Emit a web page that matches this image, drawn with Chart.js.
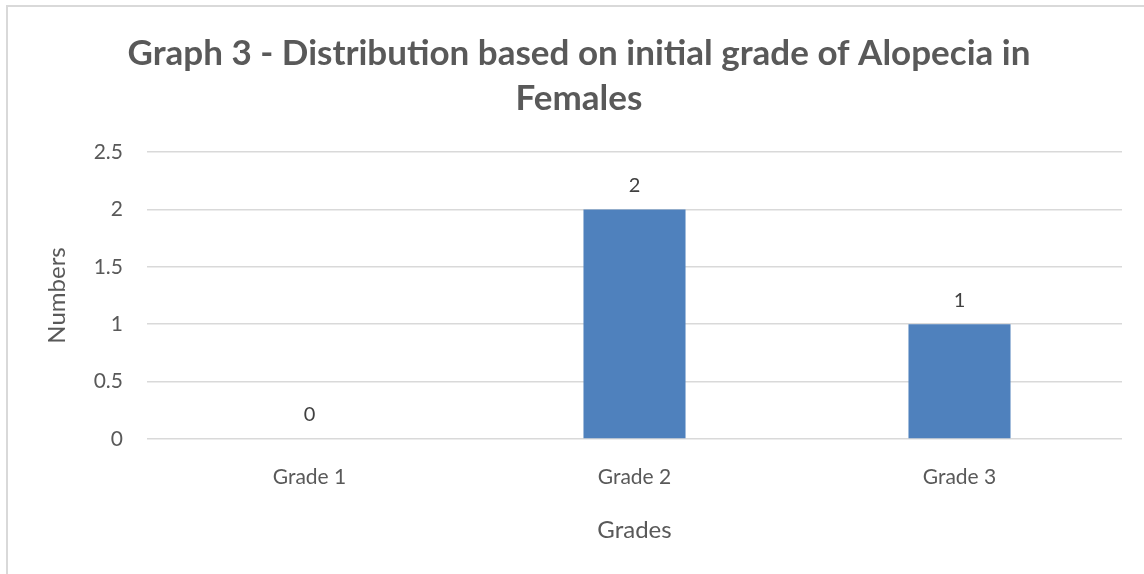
<!DOCTYPE html>
<html>
<head>
<meta charset="utf-8">
<script src="https://cdn.jsdelivr.net/npm/chart.js@4"></script>
<style>
  html, body { margin: 0; padding: 0; background: #fff; overflow: hidden; }
  #frame { position: absolute; left: 6px; top: 5px; width: 1150px; height: 600px;
           border-left: 2px solid #d9d9d9; border-top: 2px solid #d9d9d9; }
  #wrap { position: absolute; left: 0; top: 0; width: 1144px; height: 574px; }
</style>
</head>
<body>
<div id="frame"></div>
<div id="wrap"><canvas id="grades"></canvas></div>
<script>
const grades = ['Grade 1', 'Grade 2', 'Grade 3'];
const femaleCounts = [0, 2, 1];
const yTicks = [0, 0.5, 1, 1.5, 2, 2.5];

const textGrey = '#595959';
const fontFamily = 'Lato, "Open Sans", sans-serif';

// value labels on top of each bar
const barValuePlugin = {
    id: 'barValues',
    afterDatasetsDraw: function (chart) {
        const ctx = chart.ctx;
        ctx.save();
        ctx.font = `20px ${fontFamily}`;
        ctx.fillStyle = '#404040';
        ctx.textAlign = 'center';
        ctx.textBaseline = 'middle';
        chart.getDatasetMeta(0).data.forEach((bar, i) => {
            ctx.fillText(String(femaleCounts[i]), bar.x, bar.y - 24);
        });
        ctx.restore();
    }
};

const ctx = document.getElementById('grades').getContext('2d');
const gradeChart = new Chart(ctx, {
    type: 'bar',
    data: {
        labels: grades,
        datasets: [{
            data: femaleCounts,
            backgroundColor: '#4f81bd',
            borderWidth: 0,
            categoryPercentage: 1,
            barPercentage: 0.314
        }]
    },
    options: {
        responsive: true,
        maintainAspectRatio: false,
        animation: false,
        layout: { padding: { top: 0, right: 22, bottom: 0, left: 36 } },
        plugins: {
            legend: { display: false },
            tooltip: { enabled: false },
            title: {
                display: true,
                text: ['Graph 3 - Distribution based on initial grade of Alopecia in', 'Females'],
                color: textGrey,
                font: { family: fontFamily, size: 35, weight: 'bold', lineHeight: 1.286 },
                padding: { top: 31, bottom: 31 }
            }
        },
        scales: {
            x: {
                afterFit: function (scale) {
                    scale.height = 135;
                },
                grid: { display: false },
                border: { display: false },
                ticks: { color: textGrey, font: { family: fontFamily, size: 21 }, padding: 18 },
                title: {
                    display: true,
                    text: 'Grades',
                    color: textGrey,
                    font: { family: fontFamily, size: 24 },
                    padding: { top: 0, bottom: 29 }
                }
            },
            y: {
                min: 0,
                max: 2.5,
                afterBuildTicks: function (scale) {
                    scale.ticks = yTicks.map(v => ({ value: v }));
                },
                afterFit: function (scale) {
                    scale.width = 111;
                },
                grid: { color: '#d9d9d9', lineWidth: 1.5, drawTicks: false },
                border: { display: false },
                ticks: {
                    color: textGrey,
                    font: { family: fontFamily, size: 21 },
                    padding: 24,
                    callback: function (value) { return String(value); }
                },
                title: {
                    display: true,
                    text: 'Numbers',
                    color: textGrey,
                    font: { family: fontFamily, size: 24 },
                    padding: { top: 7, bottom: 0 }
                }
            }
        }
    },
    plugins: [barValuePlugin]
});
</script>
</body>
</html>
